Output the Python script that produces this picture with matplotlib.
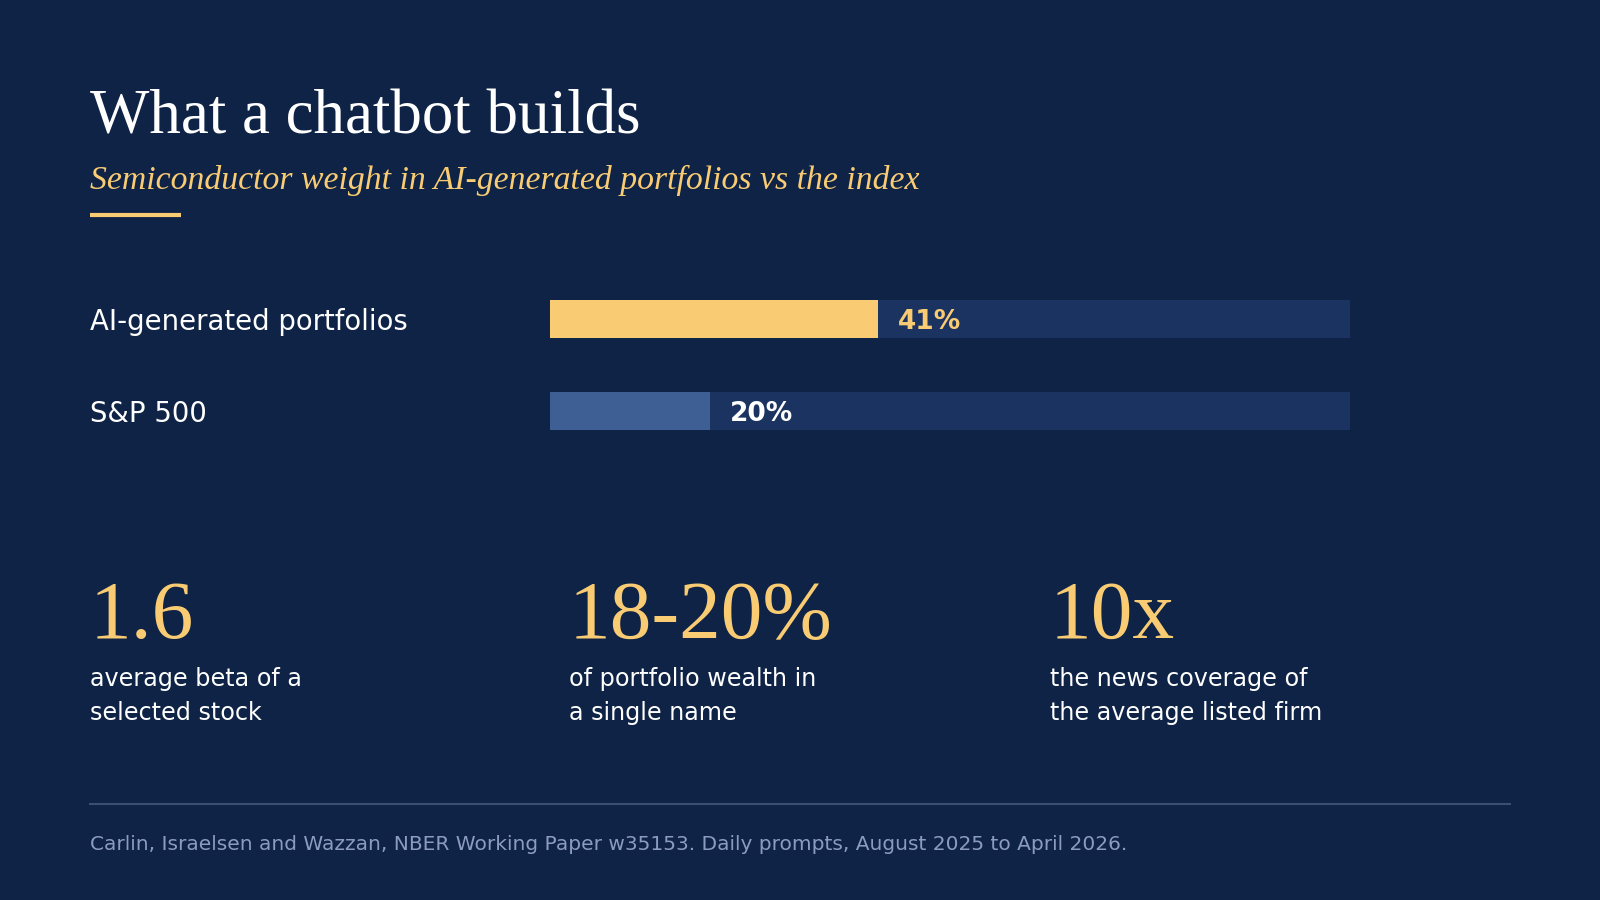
import matplotlib
matplotlib.use("Agg")
from matplotlib import pyplot as plt
from matplotlib import transforms

# data
bar_labels = ["AI-generated portfolios", "S&P 500"]
bar_values = [41, 20]
stat_values = ["1.6", "18-20%", "10x"]
stat_lines = [
    ["average beta of a", "selected stock"],
    ["of portfolio wealth in", "a single name"],
    ["the news coverage of", "the average listed firm"],
]
title = "What a chatbot builds"
subtitle = "Semiconductor weight in AI-generated portfolios vs the index"
source = "Carlin, Israelsen and Wazzan, NBER Working Paper w35153. Daily prompts, August 2025 to April 2026."

BG = "#0e2345"
TRACK = "#1b3360"
GOLD = "#f9cc74"
BLUE = "#3d5f94"
WHITE = "#ffffff"
MUTED = "#8c9cc0"
RULE = "#3b4f75"

SERIF = ["Liberation Serif", "DejaVu Serif"]
SANS = ["DejaVu Sans"]

W, H = 1600, 900
fig = plt.figure(figsize=(16, 9), dpi=100, facecolor=BG)

# full-figure canvas in pixel coordinates
canvas = fig.add_axes([0, 0, 1, 1])
canvas.set_xlim(0, W)
canvas.set_ylim(H, 0)
canvas.axis("off")

canvas.text(90, 134, title, family=SERIF, fontsize=45.3, color=WHITE, va="baseline")
canvas.text(90, 189, subtitle, family=SERIF, style="italic", fontsize=24.3,
            color=GOLD, va="baseline")
canvas.plot([90, 181], [215, 215], color=GOLD, lw=3, solid_capstyle="butt")

# bar panel
bx0, bx1 = 550, 1350
by0, by1 = 300, 430
bar_ax = fig.add_axes([bx0 / W, 1 - by1 / H, (bx1 - bx0) / W, (by1 - by0) / H])
bar_ax.set_facecolor("none")
bar_ax.set_xlim(0, 100)
bar_ax.set_ylim(1.2065, -0.2065)
bar_ax.axis("off")

ypos = list(range(len(bar_values)))
bar_h = 38 / 92
bar_ax.barh(ypos, [100] * len(bar_values), height=bar_h, color=TRACK, lw=0)
fills = [GOLD, BLUE]
value_colors = [GOLD, WHITE]
bar_ax.barh(ypos, bar_values, height=bar_h, color=fills, lw=0)

label_tf = transforms.blended_transform_factory(canvas.transData, bar_ax.transData)
for y, lab, val, vc in zip(ypos, bar_labels, bar_values, value_colors):
    bar_ax.text(90, y, lab, transform=label_tf, family=SANS, fontsize=19.8,
                color=WHITE, va="center_baseline", ha="left")
    bar_ax.annotate(f"{val}%", (val, y), xytext=(14.4, 0), textcoords="offset points",
                    family=SANS, fontsize=19, weight="bold", color=vc,
                    va="center_baseline", ha="left")

# stat columns
col_x = [90, 569, 1050]
for x, val, lines in zip(col_x, stat_values, stat_lines):
    canvas.text(x, 638, val, family=SERIF, fontsize=60, color=GOLD, va="baseline")
    for k, line in enumerate(lines):
        canvas.text(x, 686 + 34 * k, line, family=SANS, fontsize=17.2,
                    color=WHITE, va="baseline")

canvas.plot([90, 1510], [804, 804], color=RULE, lw=1.5)
canvas.text(90, 850, source, family=SANS, fontsize=14.5, color=MUTED, va="baseline")

fig.savefig("out.png", dpi=100, facecolor=BG)
